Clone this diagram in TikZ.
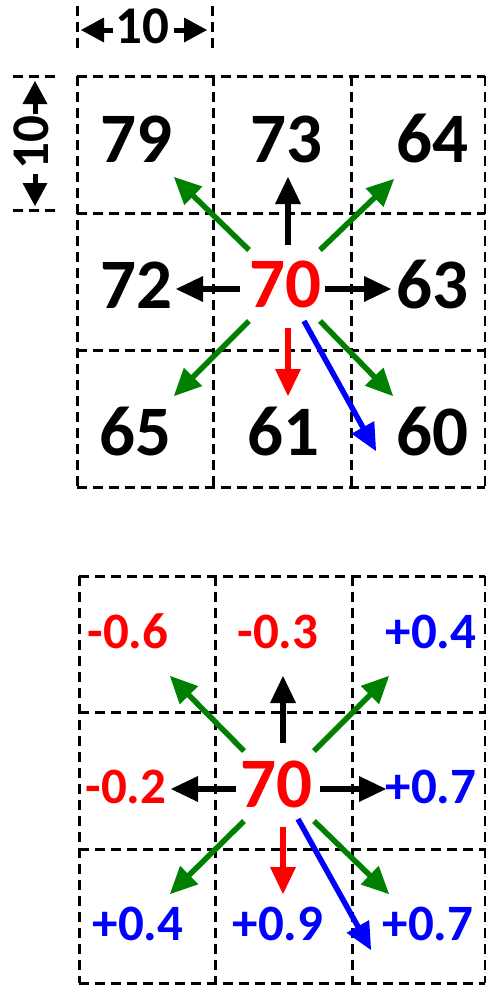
\documentclass[tikz,border=0pt]{standalone}
\usepackage{fontspec}
\setmainfont{Carlito}
\usetikzlibrary{calc}
\definecolor{dgreen}{RGB}{0,128,0}
\definecolor{vred}{RGB}{255,0,0}
\definecolor{vblue}{RGB}{0,0,255}
\tikzset{
  gridline/.style={line width=3pt, dash pattern=on 10pt off 6pt},
  num/.style={font=\fontsize{71}{71}\selectfont\bfseries, anchor=base, inner sep=0pt},
  val/.style={font=\fontsize{51}{51}\selectfont\bfseries, anchor=base, inner sep=0pt},
  dimtext/.style={font=\fontsize{53}{53}\selectfont\bfseries, inner sep=0pt}
}
% connector from #2 to #3 in colour #1, stem width #4, head length #5, head half width #6
\newcommand\conn[6]{%
  \draw[#1, line width=#4, shorten >=#5-3pt] (#2) -- (#3);
  \path ($(#3)!#5!(#2)$) coordinate (hb);
  \fill[#1] (#3) -- ($(hb)!#6!90:(#3)$) -- ($(hb)!#6!-90:(#3)$) -- cycle;}
\newcommand\mainarr[3]{\conn{#1}{#2}{#3}{5.5pt}{27pt}{13pt}}
\newcommand\dimarr[2]{\conn{black}{#1}{#2}{5pt}{23pt}{12.5pt}}
\begin{document}
\begin{tikzpicture}[x=1pt,y=-1pt]
\useasboundingbox (0,0) rectangle (486,985);

% ---------- dimensions ----------
\draw[gridline] (77,6) -- (77,53);
\draw[gridline] (212,6) -- (212,53);
\node[dimtext, anchor=base] (dimtop) at (142,43) {10};
\coordinate (dtl) at (113,30); \coordinate (dtlt) at (81,30);
\coordinate (dtr) at (174,30); \coordinate (dtrt) at (207,30);
\dimarr{dtl}{dtlt}
\dimarr{dtr}{dtrt}

\draw[gridline] (13,76) -- (58,76);
\draw[gridline] (13,210) -- (58,210);
\node[dimtext, rotate=90] (dimleft) at (31,143) {10};
\coordinate (dlu) at (35,114); \coordinate (dlut) at (35,81);
\coordinate (dld) at (35,174); \coordinate (dldt) at (35,206);
\dimarr{dlu}{dlut}
\dimarr{dld}{dldt}

% ---------- top grid ----------
\foreach \y in {76,213,350,487} \draw[gridline] (77,\y) -- (485,\y);
\foreach \x in {77,213,351,485} \draw[gridline] (\x,76) -- (\x,487);

\node[num] (t79) at (136,162) {79};
\node[num] (t73) at (286,162) {73};
\node[num] (t64) at (432,162) {64};
\node[num] (t72) at (136,308) {72};
\node[num, text=vred] (t70) at (285,307) {70};
\node[num] (t63) at (432,308) {63};
\node[num] (t65) at (135,455) {65};
\node[num] (t61) at (283,455) {61};
\node[num] (t60) at (432,455) {60};

\coordinate (tu0) at (288,245);  \coordinate (tu1) at (288,177);
\coordinate (tl0) at (240,289);  \coordinate (tl1) at (176,289);
\coordinate (tr0) at (325,289);  \coordinate (tr1) at (391,289);
\coordinate (tul0) at (249,250); \coordinate (tul1) at (174,177);
\coordinate (tur0) at (320,250); \coordinate (tur1) at (394,179);
\coordinate (tll0) at (249,321); \coordinate (tll1) at (174,396);
\coordinate (tlr0) at (320,321); \coordinate (tlr1) at (393,396);
\coordinate (td0) at (288,328);  \coordinate (td1) at (288,396);
\coordinate (tb0) at (304,321);  \coordinate (tb1) at (376,451);

\mainarr{black}{tu0}{tu1}
\mainarr{black}{tl0}{tl1}
\mainarr{black}{tr0}{tr1}
\mainarr{dgreen}{tul0}{tul1}
\mainarr{dgreen}{tur0}{tur1}
\mainarr{dgreen}{tll0}{tll1}
\mainarr{dgreen}{tlr0}{tlr1}
\mainarr{vred}{td0}{td1}
\mainarr{vblue}{tb0}{tb1}

% ---------- bottom grid ----------
\foreach \y in {576,712,849,983} \draw[gridline] (79,\y) -- (485,\y);
\foreach \x in {79,215,352,485} \draw[gridline] (\x,576) -- (\x,983);

\node[val, text=vred] (b1) at (128,648) {-0.6};
\node[val, text=vred] (b2) at (278,648) {-0.3};
\node[val, text=vblue] (b3) at (431,648) {+0.4};
\node[val, text=vred] (b4) at (126,803) {-0.2};
\node[num, text=vred] (b70) at (276,807) {70};
\node[val, text=vblue] (b6) at (431,803) {+0.7};
\node[val, text=vblue] (b7) at (138,940) {+0.4};
\node[val, text=vblue] (b8) at (278,940) {+0.9};
\node[val, text=vblue] (b9) at (428,940) {+0.7};

\coordinate (bu0) at (283,743);  \coordinate (bu1) at (283,676);
\coordinate (bl0) at (236,789);  \coordinate (bl1) at (171,789);
\coordinate (br0) at (320,789);  \coordinate (br1) at (386,789);
\coordinate (bul0) at (244,751); \coordinate (bul1) at (170,676);
\coordinate (bur0) at (314,751); \coordinate (bur1) at (389,676);
\coordinate (bll0) at (244,821); \coordinate (bll1) at (170,894);
\coordinate (blr0) at (314,821); \coordinate (blr1) at (389,894);
\coordinate (bd0) at (283,827);  \coordinate (bd1) at (283,894);
\coordinate (bb0) at (298,819);  \coordinate (bb1) at (371,950);

\mainarr{black}{bu0}{bu1}
\mainarr{black}{bl0}{bl1}
\mainarr{black}{br0}{br1}
\mainarr{dgreen}{bul0}{bul1}
\mainarr{dgreen}{bur0}{bur1}
\mainarr{dgreen}{bll0}{bll1}
\mainarr{dgreen}{blr0}{blr1}
\mainarr{vred}{bd0}{bd1}
\mainarr{vblue}{bb0}{bb1}
\end{tikzpicture}
\end{document}
